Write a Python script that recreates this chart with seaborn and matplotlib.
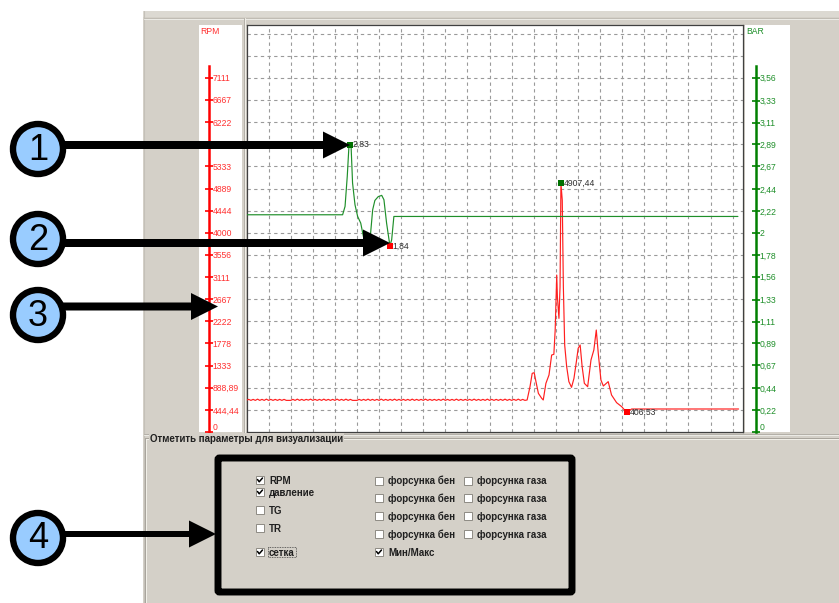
import numpy as np
import seaborn as sns
import matplotlib
matplotlib.use("Agg")
import matplotlib.pyplot as plt
from matplotlib.patches import Rectangle, Circle, FancyArrow, FancyBboxPatch

W, H = 839, 603
GRAY = "#d4d0c8"
RED = "#ff1f1f"
GREEN = "#1f8f2a"
AXGREEN = "#008000"

# tick labels
rpm_ticks = [0, 444.44, 888.89, 1333, 1778, 2222, 2667, 3111, 3556, 4000, 4444, 4889, 5333, 5778, 6222, 6667, 7111]
rpm_labels = ["0", "444,44", "888,89", "1333", "1778", "2222", "2667", "3111", "3556", "4000", "4444", "4889", "5333", "5778", "6222", "6667", "7111"]
bar_ticks = [0, 0.22, 0.44, 0.67, 0.89, 1.11, 1.33, 1.56, 1.78, 2, 2.22, 2.44, 2.67, 2.89, 3.11, 3.33, 3.56]
bar_labels = ["0", "0,22", "0,44", "0,67", "0,89", "1,11", "1,33", "1,56", "1,78", "2", "2,22", "2,44", "2,67", "2,89", "3,11", "3,33", "3,56"]
grid_x = [1, 2, 3, 4, 5, 6, 7, 8, 9, 10, 11, 12, 13, 14, 15, 16, 17, 18, 19, 20, 21, 22]
grid_y = [444.44, 888.89, 1333, 1778, 2222, 2667, 3111, 3556, 4000, 4444, 4889, 5333, 5778, 6222, 6667, 7111, 7556, 8000]

# pressure, BAR
bar_t = [0.01, 4.35, 4.46, 4.56, 4.64, 4.73, 4.80, 4.91, 5.03, 5.17, 5.29, 5.44, 5.59, 5.71, 5.81, 5.96, 6.12, 6.22, 6.34, 6.49, 6.57, 6.67, 22.24]
bar_val = [2.183, 2.183, 2.267, 2.569, 2.887, 2.887, 2.502, 2.284, 2.166, 2.099, 1.965, 1.898, 1.932, 2.233, 2.327, 2.365, 2.378, 2.334, 2.099, 1.871, 1.932, 2.166, 2.166]

# RPM, idle ripple at the start
idle_t = [0.0, 0.1, 0.2, 0.3, 0.4, 0.5, 0.6, 0.7, 0.8, 0.9, 1.0, 1.1, 1.2, 1.3, 1.4, 1.5,
          1.6, 1.7, 1.8, 1.9, 2.0, 2.1, 2.2, 2.3, 2.4, 2.5, 2.6, 2.7, 2.8, 2.9, 3.0, 3.1,
          3.2, 3.3, 3.4, 3.5, 3.6, 3.7, 3.8, 3.9, 4.0, 4.1, 4.2, 4.3, 4.4, 4.5, 4.6, 4.7,
          4.8, 4.9, 5.0, 5.1, 5.2, 5.3, 5.4, 5.5, 5.6, 5.7, 5.8, 5.9, 6.0, 6.1, 6.2, 6.3,
          6.4, 6.5, 6.6, 6.7, 6.8, 6.9, 7.0, 7.1, 7.2, 7.3, 7.4, 7.5, 7.6, 7.7, 7.8, 7.9,
          8.0, 8.1, 8.2, 8.3, 8.4, 8.5, 8.6, 8.7, 8.8, 8.9, 9.0, 9.1, 9.2, 9.3, 9.4, 9.5,
          9.6, 9.7, 9.8, 9.9, 10.0, 10.1, 10.2, 10.3, 10.4, 10.5, 10.6, 10.7, 10.8, 10.9, 11.0, 11.1,
          11.2, 11.3, 11.4, 11.5, 11.6, 11.7, 11.8, 11.9, 12.0, 12.1, 12.2, 12.3, 12.4, 12.5, 12.6, 12.7]
idle_rpm = [640, 655, 635, 655, 635, 660, 635, 655, 635, 660, 635, 655, 635, 655, 635, 655,
            635, 655, 635, 635, 635, 655, 635, 660, 635, 655, 635, 655, 640, 660, 635, 655,
            635, 655, 635, 660, 635, 655, 635, 655, 635, 660, 635, 655, 635, 660, 635, 655,
            635, 635, 635, 655, 635, 655, 635, 660, 635, 655, 635, 655, 635, 660, 635, 655,
            635, 655, 635, 660, 635, 655, 635, 655, 635, 655, 635, 660, 635, 655, 635, 655,
            635, 660, 635, 655, 635, 655, 635, 655, 635, 660, 635, 655, 635, 655, 635, 660,
            635, 655, 635, 655, 635, 655, 635, 660, 635, 655, 635, 655, 635, 660, 635, 655,
            635, 655, 635, 655, 635, 660, 635, 655, 635, 655, 635, 660, 635, 655, 635, 643]
# RPM, the rest
rev_t = [12.83, 12.93, 13.02, 13.10, 13.21, 13.36, 13.43, 13.55, 13.69, 13.81, 13.91, 13.97, 14.04, 14.07, 14.14, 14.19,
         14.23, 14.29, 14.34, 14.40, 14.49, 14.59, 14.71, 14.82, 14.94, 15.01, 15.10, 15.19, 15.29, 15.44, 15.59, 15.72,
         15.83, 15.92, 16.04, 16.15, 16.25, 16.37, 16.52, 16.75, 16.98, 17.20, 17.43, 18.11, 22.27]
rev_rpm = [910, 1178, 1191, 1011, 776, 676, 643, 977, 1145, 1546, 1560, 2048, 3152, 2717, 2282, 2918,
           4993, 4658, 2918, 1747, 1312, 1011, 897, 1078, 1446, 1680, 1747, 1312, 977, 910, 1446, 1647,
           2048, 1580, 1044, 924, 964, 1011, 743, 589, 509, 395, 462, 462, 462]

# min / max marks
bar_max = (4.68, 2.887, "2,83")
bar_min = (6.49, 1.871, "1,84")
rpm_max = (14.23, 4993, "4907,44")
rpm_min = (17.20, 395, "406,53")

# checkbox panel
left_boxes = [("RPM", 480, True), ("давление", 492, True), ("TG", 510, False), ("TR", 528, False), ("сетка", 552, True)]
mid_boxes = [("форсунка бен", 481, False), ("форсунка бен", 498, False), ("форсунка бен", 516, False), ("форсунка бен", 534, False), ("Мин/Макс", 552, True)]
right_boxes = [("форсунка газа", 481, False), ("форсунка газа", 498, False), ("форсунка газа", 516, False), ("форсунка газа", 534, False)]

sns.set_theme(style="white")
plt.rcParams["font.family"] = ["Liberation Sans", "DejaVu Sans"]


def box(x0, y0, x1, y1):
    return [x0 / W, 1 - y1 / H, (x1 - x0) / W, (y1 - y0) / H]


fig = plt.figure(figsize=(W / 100, H / 100), dpi=100, facecolor="white")

# window background, pixel coords
bg = fig.add_axes([0, 0, 1, 1], zorder=0)
bg.set_xlim(0, W)
bg.set_ylim(H, 0)
bg.axis("off")
bg.add_patch(Rectangle((143, 11), W - 143, H - 11, fc=GRAY, ec="none"))
bg.add_patch(Rectangle((143, 11), W - 143, 6, fc="#dcd9d2", ec="none"))
bg.plot([143.5, 143.5], [11, 603], color="#c4c0b8", lw=0.8)
bg.plot([144, 839], [17.5, 17.5], color="#c0bcb4", lw=0.7)
bg.plot([144, 839], [18.5, 18.5], color="#ecebe6", lw=0.7)
bg.plot([144, 839], [433.5, 433.5], color="#b4b0a8", lw=0.7)
bg.plot([144, 839], [434.5, 434.5], color="#ecebe6", lw=0.7)
bg.plot([145, 839], [438, 438], color="#a8a49c", lw=0.7)
bg.plot([145, 839], [439, 439], color="#f2f0ea", lw=0.7)
bg.plot([145, 145], [438, 603], color="#a8a49c", lw=0.7)
bg.plot([146, 146], [439, 603], color="#f2f0ea", lw=0.7)
bg.plot([243.5, 243.5], [18, 433], color="#b4b0a8", lw=0.7)
bg.plot([244.5, 244.5], [18, 433], color="#f2f0ea", lw=0.7)

# main plot
ymax = 8173
bar_top = 4.09
xmax = 22.47
ax = fig.add_axes(box(246.5, 25, 743, 432), zorder=2, facecolor="white")
sns.lineplot(x=idle_t + rev_t, y=idle_rpm + rev_rpm, ax=ax, color=RED, linewidth=0.85, estimator=None, sort=False, zorder=3)
ax.set_xlim(0, xmax)
ax.set_ylim(0, ymax)
ax.set_xticks(grid_x)
ax.set_yticks(grid_y)
ax.tick_params(length=0, labelleft=False, labelbottom=False)
ax.grid(True, color="#9a9a9a", lw=0.8, ls=(0, (3, 3)))
ax.set_axisbelow(True)
for s in ax.spines.values():
    s.set_visible(True)
    s.set_color("#404040")
    s.set_linewidth(0.9)

ax2 = ax.twinx()
ax2.set_zorder(3)
sns.lineplot(x=bar_t, y=bar_val, ax=ax2, color=GREEN, linewidth=0.85, estimator=None, sort=False)
ax2.set_ylim(0, bar_top)
ax2.set_xlim(0, xmax)
ax2.set_yticks([])
ax2.set_ylabel("")
ax2.grid(False)
for s in ax2.spines.values():
    s.set_visible(False)

sns.scatterplot(x=[rpm_max[0]], y=[rpm_max[1]], ax=ax, marker="s", s=14, color="#007000", linewidth=0, zorder=5)
sns.scatterplot(x=[rpm_min[0]], y=[rpm_min[1]], ax=ax, marker="s", s=14, color="#ff0000", linewidth=0, zorder=5)
sns.scatterplot(x=[bar_max[0]], y=[bar_max[1]], ax=ax2, marker="s", s=14, color="#007000", linewidth=0, zorder=5)
sns.scatterplot(x=[bar_min[0]], y=[bar_min[1]], ax=ax2, marker="s", s=14, color="#ff0000", linewidth=0, zorder=5)
ax2.set_ylabel("")
for a, m in [(ax, rpm_max), (ax, rpm_min), (ax2, bar_max), (ax2, bar_min)]:
    a.annotate(m[2], (m[0], m[1]), xytext=(2, 0), textcoords="offset points", fontsize=6.2, color="#303030", va="center", zorder=6)


def side_axis(x0, x1, spine_x, ticks, labels, top, color, txt_color, head):
    a = fig.add_axes(box(x0, 25, x1, 432), zorder=2, facecolor="white")
    a.set_xlim(0, 1)
    a.set_ylim(0, top)
    a.set_xticks([])
    for n in ["top", "left", "bottom"]:
        a.spines[n].set_visible(False)
    sp = a.spines["right"]
    sp.set_visible(True)
    sp.set_position(("axes", (spine_x - x0) / (x1 - x0)))
    sp.set_color(color)
    sp.set_linewidth(1.8)
    sp.set_bounds(0, top * (432 - 66) / 407)
    a.yaxis.tick_right()
    a.set_yticks(ticks)
    a.set_yticklabels(labels)
    a.tick_params(axis="y", direction="inout", length=6, width=1.2, color=color, labelcolor=txt_color, labelsize=6.2, pad=-0.5, right=True)
    a.get_yticklabels()[0].set_va("bottom")
    a.text(1 / (x1 - x0), 1 - 6 / 407, head, transform=a.transAxes, fontsize=6.2, color=txt_color, va="center")
    return a


side_axis(199, 242, 209, rpm_ticks, rpm_labels, ymax, "#ff0000", "#ff3030", "RPM")
side_axis(745, 790, 756, bar_ticks, bar_labels, bar_top, AXGREEN, "#1f8f2a", "BAR")

# callouts and the checkbox panel drawn over everything, pixel coords
top = fig.add_axes([0, 0, 1, 1], zorder=10)
top.patch.set_alpha(0)
top.set_xlim(0, W)
top.set_ylim(H, 0)
top.axis("off")

for x0, x1, y, w in [(65, 350, 145, 8), (65, 390, 243, 8), (60, 218, 306.5, 8), (65, 216, 534, 6)]:
    top.add_patch(FancyArrow(x0, y, x1 - x0, 0, width=w, head_width=27, head_length=27,
                             length_includes_head=True, fc="black", ec="none"))
for cy, num in [(149, "1"), (239, "2"), (315, "3"), (538, "4")]:
    top.add_patch(Circle((38, cy), 25, fc="#99ccff", ec="black", lw=4.6, zorder=4))
    top.text(38, cy + 1, num, fontsize=26, color="black", ha="center", va="center", zorder=5)

top.add_patch(FancyBboxPatch((218, 458), 354, 134, boxstyle="round,pad=0,rounding_size=1.5", fc="none", ec="black", lw=5))
top.text(150, 442.5, "Отметить параметры для визуализации", fontsize=7.0, fontweight="bold", color="#202020", va="baseline",
         bbox=dict(fc=GRAY, ec="none", pad=1))


def checkbox(x, y, label, on, tx, clip_x=None):
    top.add_patch(Rectangle((x - 4, y - 4), 8, 8, fc="white", ec="#8e8b84", lw=0.7))
    if on:
        top.plot([x - 2.5, x - 0.8, x + 2.5], [y - 0.5, y + 1.8, y - 2], color="black", lw=1.1)
    t = top.text(tx, y + 3.5, label, fontsize=7.0, fontweight="bold", color="#202020", va="baseline")
    if clip_x:
        t.set_clip_path(Rectangle((tx, y - 8), clip_x - tx, 16, transform=top.transData))


for label, y, on in left_boxes:
    checkbox(260, y, label, on, 269)
for label, y, on in mid_boxes:
    checkbox(379, y, label, on, 388, 456)
for label, y, on in right_boxes:
    checkbox(468, y, label, on, 477, 545)
top.add_patch(Rectangle((268, 547), 28, 10, fc="none", ec="#404040", lw=0.6, ls=(0, (1, 1))))

fig.savefig("out.png", dpi=100, facecolor="white")
